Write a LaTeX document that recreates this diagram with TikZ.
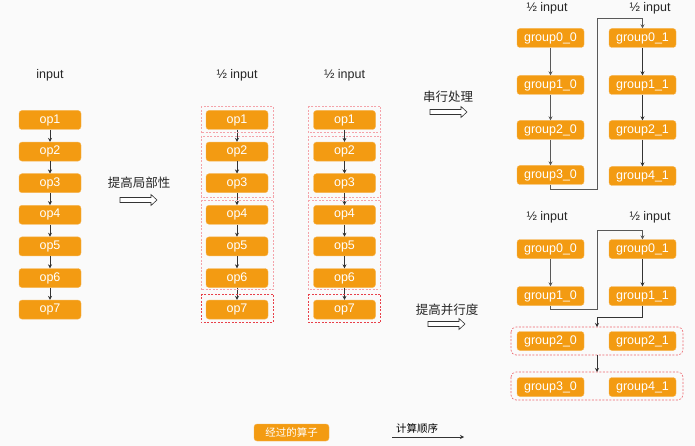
\documentclass[tikz,border=0pt]{standalone}
\usepackage{fontspec}
\setmainfont{Liberation Sans}
\newfontfamily\cjk{Noto Sans CJK SC}
\usetikzlibrary{arrows.meta}
\definecolor{opfill}{HTML}{F39B12}
\definecolor{opedge}{HTML}{F7B552}
\definecolor{bg}{HTML}{FAFAFA}
\definecolor{frred}{HTML}{E8404A}
\definecolor{frpink}{HTML}{F4A3AA}
\begin{document}
\begin{tikzpicture}[x=1pt,y=-1pt,
  opbox/.style={fill=opfill,draw=opedge,line width=0.4pt,rounded corners=3pt,text=white,
     minimum width=62pt,minimum height=19pt,inner sep=0pt,font=\fontsize{12.5}{14}\selectfont},
  gbox/.style={opbox,minimum width=67pt},
  lbl/.style={font=\fontsize{12.5}{14}\selectfont,text=black!85,inner sep=0pt},
  cnlbl/.style={font=\cjk\fontsize{12.5}{14}\selectfont,text=black!85,inner sep=0pt},
  conn/.style={draw=black!80,line width=0.6pt,-{Stealth[length=4pt,width=4pt]}},
  gconn/.style={draw=black!65,line width=0.6pt,-{Stealth[length=4pt,width=4pt]}},
  frame/.style={dashed,dash pattern=on 2pt off 1.5pt,line width=0.6pt},
  hollow/.style={draw=black!80,fill=white,line width=0.6pt}
]
\fill[bg] (0,0) rectangle (695,446);
\useasboundingbox (0,0) rectangle (695,446);

% ---------- column 1 ----------
\node[lbl] (in1) at (50,75) {input};
\foreach \i/\y in {1/120,2/151.6,3/183.2,4/214.8,5/246.4,6/278,7/309.6}{
  \node[opbox] (a\i) at (50,\y) {op\i};
  \node[opbox] (b\i) at (237,\y) {op\i};
  \node[opbox] (c\i) at (344.5,\y) {op\i};
}
\foreach \i/\j in {1/2,2/3,3/4,4/5,5/6,6/7}{
  \draw[conn] (a\i.south) -- (a\j.north);
  \draw[conn] (b\i.south) -- (b\j.north);
  \draw[conn] (c\i.south) -- (c\j.north);
}
\node[lbl] (in2) at (237,75) {½ input};
\node[lbl] (in3) at (344.5,75) {½ input};

% dashed groups
\foreach \c in {b,c}{
  \draw[frame,frpink] ([xshift=-5pt,yshift=4pt]\c1.north west) rectangle ([xshift=5pt,yshift=-3pt]\c1.south east);
  \draw[frame,frpink] ([xshift=-5pt,yshift=6pt]\c2.north west) rectangle ([xshift=5pt,yshift=-4pt]\c3.south east);
  \draw[frame,frpink] ([xshift=-5pt,yshift=5pt]\c4.north west) rectangle ([xshift=5pt,yshift=-2pt]\c6.south east);
  \draw[frame,frred] ([xshift=-5pt,yshift=6pt]\c7.north west) rectangle ([xshift=5pt,yshift=-3pt]\c7.south east);
}

% hollow arrow macro-free drawing
\node[cnlbl] (t1) at (139,183) {提高局部性};
\draw[hollow] (120,197.5) -- (151,197.5) -- (151,194.5) -- (157,200) -- (151,205.5) -- (151,202.5) -- (120,202.5) -- cycle;

% ---------- top right: serial ----------
\node[cnlbl] (t2) at (448,97) {串行处理};
\draw[hollow] (430,109.5) -- (461,109.5) -- (461,106.5) -- (467,112) -- (461,117.5) -- (461,114.5) -- (430,114.5) -- cycle;
\node[lbl] (in4) at (547,8) {½ input};
\node[lbl] (in5) at (650,8) {½ input};
\foreach \i/\y in {0/38,1/85,2/130,3/175}{
  \node[gbox] (s\i0) at (550.5,\y) {group\i\_0};
}
\foreach \i/\y in {0/38,1/85,2/130,4/176}{
  \node[gbox] (s\i1) at (642.5,\y) {group\i\_1};
}
\draw[gconn] (s00.south) -- (s10.north);
\draw[gconn] (s10.south) -- (s20.north);
\draw[gconn] (s20.south) -- (s30.north);
\draw[conn] (s01.south) -- (s11.north);
\draw[conn] (s11.south) -- (s21.north);
\draw[conn] (s21.south) -- (s41.north);
\coordinate (sa) at (597,189);
\coordinate (sb) at (597,18);
\draw[gconn] (s30.south) |- (sa) -- (sb) -| (s01.north);

% ---------- bottom right: parallel ----------
\node[cnlbl] (t3) at (447,310) {提高并行度};
\draw[hollow] (428,321.5) -- (459,321.5) -- (459,318.5) -- (465,324) -- (459,329.5) -- (459,326.5) -- (428,326.5) -- cycle;
\node[lbl] (in6) at (547,217) {½ input};
\node[lbl] (in7) at (650,217) {½ input};
\node[gbox] (p00) at (550.5,249) {group0\_0};
\node[gbox] (p10) at (550.5,296) {group1\_0};
\node[gbox] (p20) at (550.5,341) {group2\_0};
\node[gbox] (p30) at (550.5,387) {group3\_0};
\node[gbox] (p01) at (642.5,249) {group0\_1};
\node[gbox] (p11) at (642.5,296) {group1\_1};
\node[gbox] (p21) at (642.5,341) {group2\_1};
\node[gbox] (p41) at (642.5,387) {group4\_1};
\draw[gconn] (p00.south) -- (p10.north);
\draw[conn] (p01.south) -- (p11.north);
\coordinate (pa) at (597,309);
\coordinate (pb) at (597,230);
\draw[gconn] (p10.south) |- (pa) -- (pb) -| (p01.north);
\draw[frame,frred!80,rounded corners=5pt] (511,327) rectangle (683,355);
\draw[frame,frred!80,rounded corners=5pt] (511,372) rectangle (683,400);
\coordinate (f1t) at (597,327);
\coordinate (f1b) at (597,355);
\coordinate (f2t) at (597,372);
\coordinate (pc) at (597,317);
\draw[conn] (p11.south) |- (pc) -- (f1t);
\draw[conn] (f1b) -- (f2t);

% ---------- legend ----------
\node[opbox,minimum width=75pt,minimum height=17pt,font=\cjk\fontsize{10.5}{12}\selectfont] (leg) at (291.5,432.5) {经过的算子};
\node[font=\cjk\fontsize{10.5}{12}\selectfont,inner sep=0pt] (legt) at (417,428.5) {计算顺序};
\coordinate (la) at (392,437);
\coordinate (lb) at (464,437);
\draw[conn] (la) -- (lb);
\end{tikzpicture}
\end{document}
